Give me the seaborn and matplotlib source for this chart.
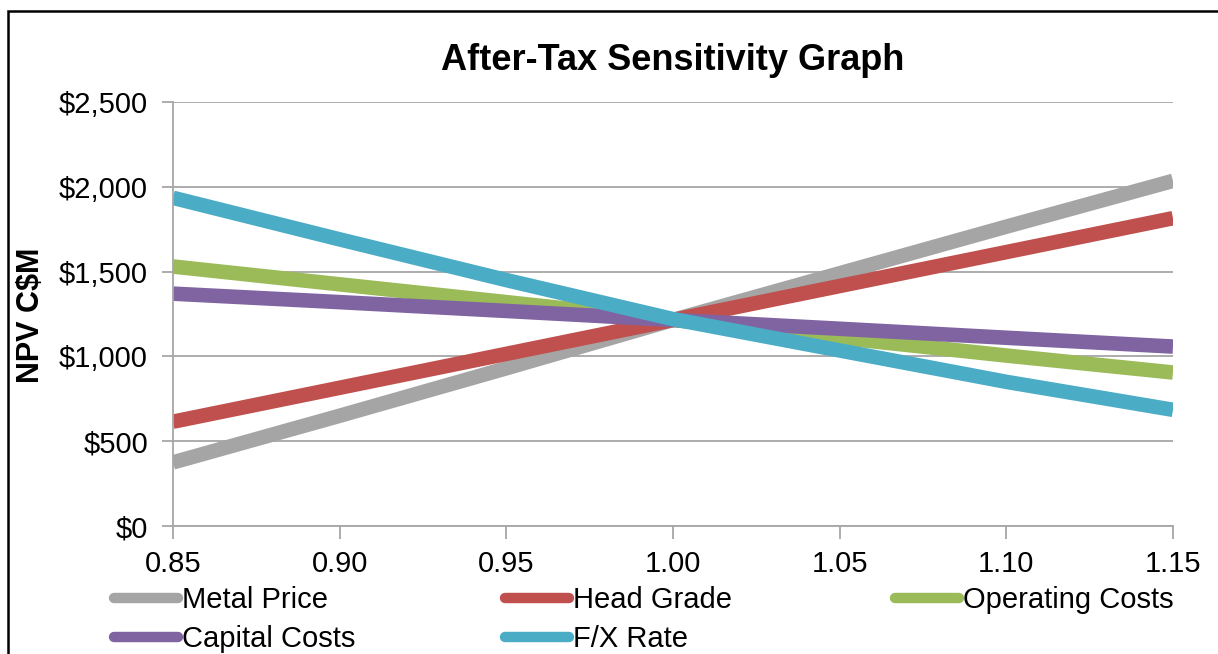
import matplotlib
matplotlib.use("Agg")
import matplotlib.pyplot as plt
from matplotlib.patches import Rectangle
from matplotlib.lines import Line2D
from matplotlib.ticker import FuncFormatter, MultipleLocator
import numpy as np
import pandas as pd
import seaborn as sns

# Sensitivity factors (fraction of base case)
factors = [0.85, 0.90, 0.95, 1.00, 1.05, 1.10, 1.15]

# After-tax NPV (C$M) for each sensitised variable
metal_price = [375, 650, 930, 1215, 1490, 1765, 2035]
head_grade = [615, 815, 1015, 1215, 1415, 1615, 1815]
operating_costs = [1530, 1425, 1320, 1215, 1110, 1005, 905]
capital_costs = [1370, 1320, 1268, 1215, 1163, 1110, 1058]
fx_rate = [1935, 1690, 1450, 1220, 1035, 850, 685]

series_names = ["Metal Price", "Head Grade", "Operating Costs", "Capital Costs", "F/X Rate"]
series_values = [metal_price, head_grade, operating_costs, capital_costs, fx_rate]
series_colors = ["#A5A5A5", "#C0504D", "#9BBB59", "#8064A2", "#4BACC6"]

df = pd.DataFrame(
    [(name, f, v) for name, vals in zip(series_names, series_values) for f, v in zip(factors, vals)],
    columns=["Variable", "Factor", "NPV"],
)

sns.set_style("white")
plt.rcParams["font.family"] = ["Liberation Sans", "DejaVu Sans"]
plt.rcParams["text.color"] = "#000000"

W, H = 1218, 654
fig = plt.figure(figsize=(W / 100, H / 100), dpi=100)
ax = fig.add_axes([173 / W, 1 - 526 / H, 1000 / W, 424 / H])

palette = dict(zip(series_names, series_colors))
sns.lineplot(
    data=df, x="Factor", y="NPV", hue="Variable", hue_order=series_names,
    palette=palette, linewidth=10.5, sort=False, legend=False, ax=ax,
)
for line in ax.get_lines():
    line.set_solid_capstyle("butt")
    line.set_solid_joinstyle("round")

ax.set_xlim(0.85, 1.15)
ax.set_ylim(0, 2500)
ax.xaxis.set_major_locator(MultipleLocator(0.05))
ax.yaxis.set_major_locator(MultipleLocator(500))
ax.xaxis.set_major_formatter(FuncFormatter(lambda v, p: f"{v:.2f}"))
ax.yaxis.set_major_formatter(FuncFormatter(lambda v, p: f"${v:,.0f}"))

grid_c = "#A6A6A6"
ax.grid(axis="y", color=grid_c, linewidth=1.3)
ax.grid(axis="x", visible=False)
ax.set_axisbelow(True)
for side in ["top", "right"]:
    ax.spines[side].set_visible(False)
for side in ["left", "bottom"]:
    ax.spines[side].set_color(grid_c)
    ax.spines[side].set_linewidth(1.3)
ax.tick_params(axis="both", which="major", direction="out", color=grid_c, width=1.3,
               labelsize=21, labelcolor="#000000", bottom=True, left=True)
ax.tick_params(axis="y", length=8, pad=10)
ax.tick_params(axis="x", length=9, pad=8)

ax.set_xlabel("")
ax.set_ylabel("")
fig.text(31 / W, 1 - 315 / H, "NPV C$M", rotation=90, ha="center", va="center",
         fontsize=22, fontweight="bold", color="#000000")
fig.text(673 / W, 1 - 60 / H, "After-Tax Sensitivity Graph", ha="center", va="center",
         fontsize=26, fontweight="bold", color="#000000")

# Legend laid out as three columns under the axis
columns = [["Metal Price", "Capital Costs"], ["Head Grade", "F/X Rate"], ["Operating Costs"]]
col_x = [114, 505, 895]
for names, x0 in zip(columns, col_x):
    handles = [Line2D([], [], color=palette[n], linewidth=7.5, solid_capstyle="round") for n in names]
    leg = fig.legend(handles, names, loc="upper left", bbox_to_anchor=(x0 / W, 1 - 586 / H),
                     frameon=False, fontsize=21, handlelength=2.2, handletextpad=0.12,
                     labelspacing=0.38, borderpad=0, borderaxespad=0)
    for t in leg.get_texts():
        t.set_color("#000000")

# Outer chart border
fig.patches.append(Rectangle((8 / W, -0.1), 1.2, 1.1 - 11 / H, transform=fig.transFigure,
                             fill=False, edgecolor="#000000", linewidth=1.8, clip_on=False))

fig.savefig("out.png", dpi=100)
